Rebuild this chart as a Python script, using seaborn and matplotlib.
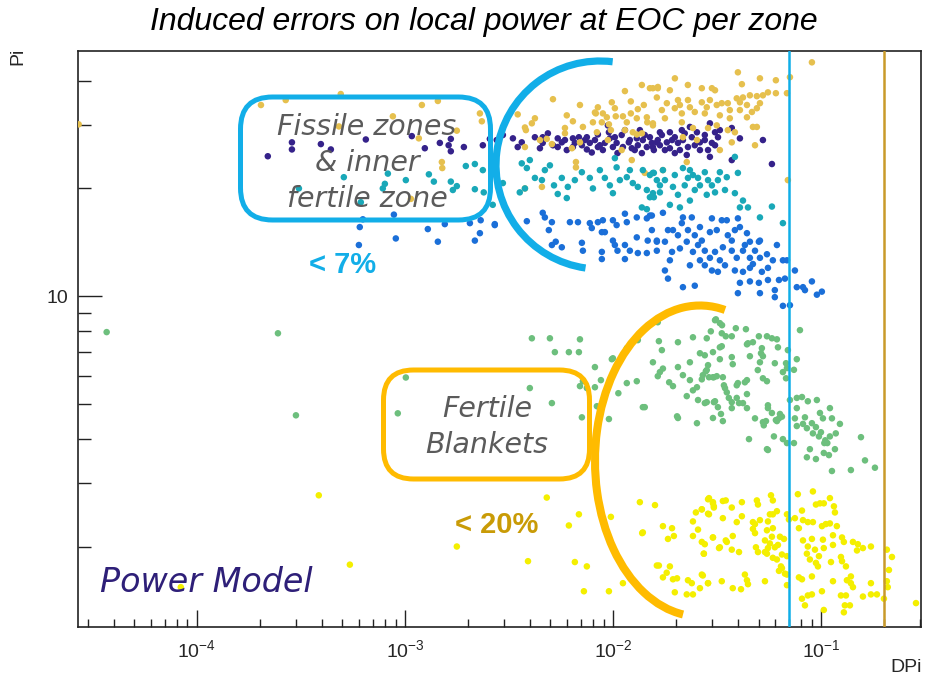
import numpy as np
import pandas as pd
import matplotlib
matplotlib.use("Agg")
import matplotlib.pyplot as plt
import seaborn as sns
from matplotlib.patches import FancyBboxPatch, Arc
from matplotlib.ticker import LogLocator, FixedLocator, NullFormatter, FixedFormatter

# ---------------- data ----------------
gold_dpi = [2.70e-5, 2.03e-4, 2.67e-4, 4.91e-4, 1.205e-3, 1.438e-3, 8.74e-4, 2.29e-3, 2.34e-3, 1.774e-3,
            1.165e-3, 1.503e-3, 1.51e-3, 1.067e-3, 4.81e-4,
            0.00514, 0.00693, 0.00845, 0.00986, 0.0114, 0.01217, 0.01375, 0.01405, 0.01554, 0.01641,
            0.00348, 0.00421, 0.00407, 0.00377, 0.00381, 0.00599, 0.00641, 0.00587, 0.00716, 0.00818,
            0.00826, 0.00893, 0.00933, 0.0080, 0.00883, 0.00955, 0.00976, 0.0102, 0.0103, 0.01115,
            0.01164, 0.01217, 0.0130, 0.01315, 0.01453, 0.0146, 0.01554, 0.0114, 0.01244, 0.0130,
            0.01375, 0.00836, 0.00587, 0.00693, 0.00634, 0.0048, 0.00508, 0.00377, 0.00445, 0.00944,
            0.0110, 0.0123, 0.0142, 0.00663, 0.00663, 0.00377, 0.00455,
            0.01982, 0.02288, 0.0398, 0.0508, 0.0606, 0.0903, 0.0708, 0.01503, 0.0164, 0.01875,
            0.0267, 0.02985, 0.0309, 0.0416, 0.0555, 0.0606, 0.0685, 0.0525, 0.0491, 0.04546,
            0.0421, 0.0393, 0.0407, 0.0356, 0.0333, 0.0292, 0.0267, 0.0229, 0.0205, 0.02095,
            0.0234, 0.0282, 0.0315, 0.0364, 0.0407, 0.0440, 0.0508, 0.0465, 0.0491, 0.01623,
            0.01813, 0.01716, 0.0198, 0.0214, 0.0247, 0.0276, 0.0326, 0.0364, 0.0440, 0.01775,
            0.0214, 0.0242, 0.0315, 0.0356, 0.0385, 0.0470, 0.0491, 0.0286, 0.01554, 0.02166,
            0.0253, 0.0372, 0.0481, 0.0326, 0.0226, 0.01736, 0.0692]
gold_pi = [30.2, 34.2, 35.3, 36.7, 34.2, 35.1, 31.8, 32.4, 30.8, 29.0,
           27.6, 23.7, 22.8, 18.7, 29.8,
           35.5, 34.2, 33.7, 34.8, 37.4, 35.0, 38.9, 34.2, 38.1, 38.4,
           32.2, 31.4, 30.4, 29.6, 29.1, 32.0, 30.8, 29.5, 29.7, 32.6,
           32.4, 32.4, 31.6, 30.6, 30.6, 30.2, 29.1, 33.5, 31.8, 31.8,
           30.6, 32.4, 31.4, 33.3, 31.6, 30.6, 30.0, 29.1, 28.7, 28.3,
           28.5, 28.7, 28.5, 26.9, 25.9, 27.5, 26.6, 26.1, 27.3, 27.3,
           25.6, 24.0, 22.1, 23.7, 22.9, 20.0, 20.2,
           40.6, 38.9, 42.2, 40.6, 40.1, 45.0, 40.9, 38.1, 38.1, 37.6,
           38.1, 38.1, 37.6, 39.1, 37.1, 36.9, 36.9, 36.4, 36.2, 36.4,
           35.9, 35.7, 34.8, 34.6, 34.6, 35.3, 34.8, 35.3, 35.3, 34.2,
           33.7, 33.7, 34.2, 33.1, 33.1, 34.2, 34.6, 32.7, 33.5, 35.9,
           34.6, 33.1, 33.5, 32.4, 32.7, 32.4, 32.0, 31.4, 31.6, 31.4,
           30.6, 29.5, 30.0, 29.1, 28.7, 29.7, 29.7, 29.5, 30.4, 27.8,
           27.3, 26.9, 26.4, 25.6, 23.7, 22.5, 21.1]

indigo_dpi = [2.19e-4, 2.86e-4, 2.86e-4, 3.94e-4, 4.40e-4, 6.48e-4, 1.078e-3, 1.245e-3, 1.47e-3, 1.62e-3,
              1.66e-3, 1.66e-3, 1.918e-3, 2.366e-3, 2.557e-3,
              0.002953, 0.0033, 0.00348, 0.00364, 0.00421, 0.00445, 0.00459, 0.00486, 0.00514, 0.00542,
              0.00567, 0.00599, 0.00641, 0.00685, 0.00708, 0.00748, 0.00773, 0.0079, 0.00845, 0.00893,
              0.00913, 0.00944, 0.00955, 0.00965, 0.00998, 0.0104, 0.0105, 0.01115, 0.0114, 0.0119,
              0.0123, 0.0130, 0.01315, 0.01375, 0.0139, 0.01453, 0.01536, 0.0157, 0.0164, 0.00276,
              0.00845, 0.00748, 0.0110, 0.00641, 0.00542, 0.00459,
              0.01503, 0.01623, 0.01716, 0.01813, 0.01875, 0.0198, 0.0205, 0.0214, 0.02166, 0.0229,
              0.0239, 0.0253, 0.02615, 0.0276, 0.0292, 0.02985, 0.0309, 0.03193, 0.01775, 0.0198,
              0.0226, 0.02615, 0.0292, 0.01554, 0.0372, 0.0407, 0.0372, 0.0525, 0.058, 0.0234,
              0.01875,
              0.00587, 0.00655, 0.00732, 0.00818, 0.00864, 0.0102, 0.01204, 0.01271, 0.0142, 0.01679,
              0.0192, 0.02095, 0.0247, 0.0276, 0.0309, 0.0326, 0.0286, 0.0221, 0.01679, 0.01345]
indigo_pi = [24.6, 26.9, 25.7, 26.6, 25.7, 27.4, 28.0, 25.9, 26.8, 26.4,
             27.5, 25.4, 26.1, 26.4, 27.5,
             28.2, 27.6, 26.1, 26.9, 27.8, 25.9, 26.8, 28.5, 26.4, 26.1,
             26.9, 25.6, 26.1, 27.8, 26.4, 25.7, 26.8, 25.2, 26.1, 25.6,
             26.8, 30.0, 28.7, 27.6, 26.1, 26.8, 25.1, 26.1, 29.1, 26.9,
             25.9, 27.6, 26.4, 25.1, 27.3, 26.1, 26.8, 25.6, 27.3, 27.3,
             28.3, 27.8, 28.2, 27.6, 27.6, 27.8,
             27.8, 26.9, 28.2, 26.9, 28.7, 27.8, 26.8, 29.1, 27.3, 26.1,
             27.8, 28.7, 26.9, 28.2, 30.4, 26.8, 28.7, 27.8, 25.6, 25.1,
             24.8, 25.6, 24.5, 26.1, 29.5, 27.6, 24.0, 27.3, 23.4, 29.7,
             25.9,
             27.3, 26.8, 27.3, 27.3, 26.4, 27.8, 27.3, 25.6, 28.2, 26.4,
             27.3, 25.6, 26.4, 27.3, 26.4, 29.1, 25.6, 28.5, 28.7, 29.1]

teal_dpi = [3.09e-4, 5.08e-4, 8.00e-4, 7.82e-4, 8.27e-4, 1.009e-3, 1.302e-3, 1.376e-3, 1.66e-3, 1.698e-3,
            1.774e-3, 1.96e-3, 2.166e-3, 2.366e-3, 2.166e-3, 2.39e-3, 6.13e-4,
            0.00364, 0.00385, 0.00398, 0.00497, 0.00421, 0.00377, 0.00356, 0.00455, 0.00567, 0.00606,
            0.00542, 0.00599, 0.00708, 0.00773, 0.0080, 0.00913, 0.0102, 0.0104, 0.01078, 0.00998,
            0.01164, 0.01244, 0.01315, 0.0139, 0.01453, 0.01503, 0.01554, 0.01375, 0.01453, 0.01623,
            0.002953, 0.00264,
            0.01554, 0.01736, 0.0194, 0.02166, 0.0242, 0.02615, 0.0286, 0.0326, 0.0309, 0.0234,
            0.02095, 0.01875, 0.0385, 0.0398, 0.0385, 0.0421, 0.0445, 0.0407, 0.0508, 0.058,
            0.0655, 0.0157, 0.01679, 0.0234, 0.0352, 0.0282, 0.01503, 0.0157,
            0.01775, 0.0198, 0.0221, 0.0247, 0.0276, 0.02985, 0.0205, 0.0256, 0.01679, 0.0229,
            0.0319, 0.0345, 0.01204, 0.00965, 0.00864, 0.00655, 0.0052, 0.0047]
teal_pi = [20.0, 21.5, 20.6, 20.0, 22.0, 21.1, 21.9, 20.9, 20.9, 19.8,
           20.3, 23.1, 23.4, 22.5, 19.9, 19.5, 18.3,
           23.5, 22.8, 24.0, 23.2, 21.4, 20.0, 19.5, 21.1, 21.4, 20.2,
           19.3, 18.8, 22.2, 21.4, 20.0, 21.4, 24.3, 22.9, 21.1, 19.4,
           21.5, 20.7, 20.2, 22.5, 19.8, 21.8, 19.4, 17.7, 17.5, 21.1,
           20.7, 18.0,
           22.1, 22.5, 20.2, 22.8, 21.8, 20.4, 21.1, 22.2, 19.5, 18.5,
           17.7, 18.0, 24.5, 22.1, 19.4, 18.5, 17.7, 17.7, 16.6, 17.8,
           16.0, 18.9, 19.5, 22.5, 21.5, 19.2, 18.9, 22.1,
           21.1, 21.8, 20.4, 19.8, 22.2, 20.4, 19.2, 21.4, 20.4, 21.4,
           21.1, 19.8, 22.5, 20.4, 22.5, 21.1, 20.4, 22.5]

blue_dpi = [6.27e-4, 6.06e-4, 8.84e-4, 9.03e-4, 6.0e-4, 1.287e-3, 1.438e-3, 2.166e-3, 2.29e-3, 0.0027,
            2.05e-3, 1.553e-3, 2.31e-3,
            0.0027, 0.00385, 0.00459, 0.0047, 0.00508, 0.00491, 0.0062, 0.00678, 0.00773, 0.0079,
            0.00845, 0.00893, 0.00913, 0.00883, 0.00998, 0.0104, 0.0114, 0.01164, 0.0130, 0.01453,
            0.01536, 0.01536, 0.00508, 0.0053, 0.00567, 0.00708, 0.00716, 0.00883, 0.00883, 0.00998,
            0.0102, 0.0105, 0.0114, 0.0114, 0.01204, 0.0130, 0.01315, 0.01467, 0.01453, 0.01623,
            0.01503, 0.01736, 0.0194, 0.0214, 0.02166, 0.0239, 0.02615, 0.02985, 0.0333, 0.0352,
            0.0398, 0.0407, 0.0385, 0.01836, 0.01623, 0.01775, 0.0205, 0.0226, 0.0247, 0.0267,
            0.0315, 0.0337, 0.0372, 0.0440, 0.04546, 0.0502, 0.01623, 0.0192, 0.02095, 0.0242,
            0.0276, 0.0292, 0.0309, 0.0326, 0.0372, 0.0393, 0.0421, 0.04546, 0.0470, 0.0508,
            0.0549, 0.0613, 0.0586, 0.0655, 0.01875, 0.01775, 0.01836, 0.02166, 0.0247, 0.0276,
            0.02985, 0.0319, 0.0407, 0.0398, 0.04546, 0.0502, 0.0519, 0.0555, 0.0555, 0.0627,
            0.0599, 0.0599, 0.0670, 0.0685, 0.0748, 0.0764, 0.0818, 0.0836, 0.0954, 0.0508,
            0.04546, 0.0421, 0.0655, 0.0708, 0.0903, 0.1008,
            0.0229, 0.0256, 0.0292, 0.0356, 0.0430, 0.0481, 0.02615, 0.0345, 0.0234, 0.0508, 0.0385]
blue_pi = [16.4, 15.6, 16.9, 14.5, 13.9, 15.4, 14.2, 14.3, 15.0, 15.8,
           16.0, 15.9, 16.3,
           15.9, 16.2, 17.1, 16.6, 16.1, 15.3, 16.1, 16.1, 16.0, 15.5,
           16.1, 16.3, 15.1, 15.1, 16.3, 15.8, 17.0, 16.1, 16.6, 16.5,
           16.8, 15.3, 13.9, 14.2, 13.7, 14.1, 13.4, 13.3, 12.7, 14.3,
           13.9, 13.4, 13.9, 12.7, 13.4, 14.6, 13.2, 14.3, 13.2, 14.2,
           16.8, 17.1, 15.3, 16.0, 16.6, 16.6, 15.6, 16.5, 16.3, 16.3,
           16.5, 15.6, 15.3, 15.3, 14.3, 14.2, 14.8, 14.2, 14.8, 14.3,
           15.3, 13.7, 14.3, 15.0, 14.2, 14.2, 13.4, 13.3, 13.6, 13.3,
           13.4, 12.8, 13.3, 12.6, 13.4, 12.8, 13.4, 12.8, 12.3, 12.8,
           13.1, 13.9, 12.6, 12.6, 12.6, 11.8, 11.2, 10.6, 10.7, 12.2,
           11.8, 11.7, 10.9, 10.2, 11.0, 10.9, 11.7, 12.0, 11.1, 11.1,
           10.4, 9.94, 11.2, 12.6, 11.8, 10.6, 10.6, 10.4, 10.1, 10.2,
           12.0, 11.7, 9.4, 9.44, 11.0, 10.3,
           15.3, 13.9, 15.1, 14.8, 13.9, 13.4, 12.6, 12.2, 12.2, 14.3, 11.8]

green_dpi = [3.68e-5, 2.45e-4, 2.99e-4, 1.009e-3, 9.23e-4,
             0.00407, 0.00497, 0.00693, 0.00525, 0.00613, 0.00685, 0.00986, 0.00998, 0.00818, 0.01164,
             0.01315, 0.0164, 0.0166, 0.01716, 0.01554, 0.0205, 0.0242, 0.0282, 0.0295, 0.0309,
             0.00716, 0.00693, 0.00748, 0.00818, 0.00874, 0.0106, 0.01164, 0.0130, 0.01679, 0.01736,
             0.0164, 0.0186, 0.0194, 0.0205, 0.02166, 0.0234, 0.0242, 0.0253, 0.0267, 0.0279,
             0.0286, 0.0302, 0.0315, 0.0226, 0.0256, 0.0276, 0.0309, 0.0319, 0.0302, 0.0253,
             0.0205, 0.0203, 0.0139, 0.0142, 0.00836, 0.00864, 0.00708, 0.00955, 0.00508, 0.00398,
             0.0234, 0.02615, 0.0276, 0.0302, 0.0326,
             0.0312, 0.0326, 0.0334, 0.0389, 0.0435, 0.0791, 0.0333, 0.0348, 0.0372, 0.0502,
             0.0549, 0.058, 0.0613, 0.0470, 0.0445, 0.0440, 0.0333, 0.0519, 0.0620, 0.0692,
             0.0372, 0.04546, 0.0514, 0.0525, 0.0326, 0.0508, 0.0599, 0.0678, 0.0764, 0.0376,
             0.0685, 0.0740, 0.0282, 0.0496, 0.0655, 0.0270, 0.0289, 0.0305, 0.0337, 0.0525,
             0.0549, 0.0678, 0.0440, 0.0430, 0.0398, 0.0393, 0.0341, 0.0345, 0.0352, 0.0440,
             0.0360, 0.0393, 0.0372, 0.0403, 0.0421, 0.0440, 0.0372, 0.0282, 0.0305, 0.0708,
             0.0764, 0.0809, 0.0863, 0.0954, 0.0764, 0.1102, 0.0555, 0.0555, 0.058, 0.0634,
             0.0648, 0.0748, 0.0836, 0.0987, 0.1020, 0.1127, 0.1231, 0.0481, 0.0543, 0.0525,
             0.0530, 0.0606, 0.0627, 0.0613, 0.0330, 0.0337, 0.0818, 0.0903, 0.0764, 0.0854,
             0.0944, 0.0998, 0.0913, 0.0976, 0.1047, 0.1102, 0.1176, 0.1036, 0.1071, 0.0593,
             0.0655, 0.0685, 0.0740, 0.0450, 0.0549, 0.0555, 0.0883, 0.1165, 0.1090, 0.1030,
             0.0854, 0.0944, 0.1554, 0.1625, 0.1814, 0.1127, 0.1390]
green_pi = [7.94, 7.88, 4.65, 5.93, 4.71,
            7.63, 7.63, 7.58, 6.98, 6.98, 6.98, 6.67, 6.71, 6.34, 7.16,
            7.54, 8.46, 7.49, 7.07, 6.54, 7.44, 7.68, 7.63, 7.98, 8.57,
            5.79, 5.61, 5.54, 5.57, 5.83, 5.36, 5.72, 5.79, 6.14, 6.28,
            5.98, 5.75, 5.61, 6.34, 6.02, 5.83, 5.46, 5.57, 5.86, 6.17,
            6.42, 5.94, 5.98, 5.26, 5.13, 5.03, 5.09, 4.90, 4.57, 4.42,
            4.57, 4.62, 4.90, 4.90, 4.93, 4.87, 4.59, 4.54, 5.03, 5.54,
            6.54, 6.93, 6.84, 6.98, 7.20,
            8.62, 8.41, 8.30, 8.14, 8.09, 8.04, 7.88, 7.73, 7.73, 7.73,
            7.73, 7.63, 7.58, 7.44, 7.39, 7.34, 7.25, 7.16, 7.20, 7.07,
            6.76, 6.80, 6.93, 6.80, 6.67, 6.54, 6.50, 6.50, 6.67, 6.46,
            6.30, 6.23, 6.22, 6.22, 6.14, 6.02, 5.94, 5.94, 5.94, 5.90,
            5.79, 5.90, 5.83, 5.75, 5.72, 5.64, 5.64, 5.54, 5.39, 5.33,
            5.20, 5.20, 5.06, 5.03, 5.03, 4.87, 4.87, 5.06, 5.06, 5.13,
            5.20, 5.23, 5.09, 5.13, 4.87, 4.87, 4.96, 4.87, 4.72, 4.69,
            4.61, 4.56, 4.59, 4.72, 4.56, 4.56, 4.40, 4.56, 4.48, 4.45,
            4.36, 4.51, 4.56, 4.48, 4.69, 4.48, 4.40, 4.42, 4.34, 4.28,
            4.31, 4.17, 4.14, 4.06, 3.96, 4.06, 4.14, 3.89, 3.89, 4.06,
            3.99, 3.89, 3.89, 3.99, 3.74, 3.72, 3.74, 3.74, 3.60, 3.65,
            3.55, 3.51, 4.04, 3.48, 3.32, 3.25, 3.27]

yellow_dpi = [3.85e-4, 5.43e-4, 1.774e-3, 8.36e-5,
              0.0048, 0.00685, 0.00613, 0.00976, 0.01345, 0.0159, 0.0138, 0.0139, 0.01736, 0.0192,
              0.0196, 0.01836, 0.0250, 0.0267, 0.0286, 0.0302, 0.0305, 0.0289, 0.0242, 0.0256,
              0.0242, 0.0267, 0.0276, 0.0273, 0.0302, 0.0039, 0.00655, 0.00748, 0.00724, 0.00955,
              0.01623, 0.0166, 0.01875, 0.0181, 0.01736, 0.0194, 0.0203, 0.0229, 0.0239, 0.0267,
              0.02615, 0.0286, 0.0198, 0.0226, 0.0242, 0.01115,
              0.0289, 0.0302, 0.0305, 0.0267, 0.0286, 0.0337, 0.0348, 0.0372, 0.0416, 0.0491,
              0.0497, 0.0574, 0.0586, 0.0567, 0.0586, 0.0613, 0.0685, 0.0700, 0.0748, 0.0809,
              0.0773, 0.0913, 0.0944, 0.0987, 0.1030, 0.1102, 0.1152, 0.1165, 0.0863, 0.0913,
              0.0818, 0.1009, 0.1053, 0.1102, 0.1190, 0.0782, 0.1140, 0.1260, 0.1286, 0.1422,
              0.1502, 0.1735, 0.1140, 0.1020, 0.0903, 0.0818, 0.0863, 0.0934, 0.1030, 0.0976,
              0.0883, 0.0854, 0.0944, 0.0965, 0.1115, 0.1245, 0.1316, 0.1260, 0.1588, 0.1487,
              0.207, 0.219, 0.2118, 0.207, 0.209, 0.2004, 0.1735, 0.1735, 0.1854, 0.1588,
              0.1316, 0.1245, 0.1422, 0.1390, 0.1330, 0.1140, 0.1009, 0.0903, 0.0863, 0.0809,
              0.0836, 0.1030, 0.1300, 0.1375, 0.1286, 0.2857, 0.1390, 0.0782, 0.0809, 0.0903,
              0.0685, 0.0670, 0.0685, 0.0641, 0.0627, 0.0648, 0.0613, 0.0648, 0.0599, 0.0620,
              0.0634, 0.0663, 0.058, 0.0586, 0.0549, 0.0567, 0.0555, 0.0537, 0.0537, 0.0549,
              0.0586, 0.0486, 0.0497, 0.0470, 0.0481, 0.0508, 0.0555, 0.0470, 0.0481, 0.0416,
              0.0393, 0.0337, 0.0302, 0.0326, 0.0323, 0.0348, 0.0352, 0.0376, 0.0372, 0.0403,
              0.0273, 0.0270, 0.0286, 0.0333, 0.0376, 0.0412, 0.0430, 0.0440, 0.0445, 0.0537,
              0.0685]
yellow_pi = [2.78, 1.78, 2.00, 1.54,
             2.74, 2.46, 2.29, 2.42, 2.66, 2.61, 2.18, 2.19, 2.28, 2.25,
             2.14, 2.10, 2.49, 2.54, 2.71, 2.64, 2.57, 2.46, 2.35, 2.23,
             2.14, 2.06, 2.03, 1.91, 2.12, 1.82, 1.81, 1.76, 1.50, 1.50,
             1.77, 1.77, 1.76, 1.69, 1.64, 1.62, 1.63, 1.61, 1.58, 1.67,
             1.53, 1.58, 1.49, 1.47, 1.47, 1.58,
             2.73, 2.66, 2.59, 2.54, 2.47, 2.68, 2.69, 2.57, 2.66, 2.69,
             2.62, 2.78, 2.69, 2.46, 2.46, 2.51, 2.46, 2.38, 2.40, 2.52,
             2.80, 2.85, 2.62, 2.64, 2.64, 2.73, 2.59, 2.49, 2.34, 2.34,
             2.37, 2.28, 2.31, 2.32, 2.28, 2.25, 2.15, 2.12, 2.06, 2.06,
             2.03, 2.00, 2.02, 2.09, 2.10, 2.08, 2.00, 1.96, 1.98, 1.88,
             1.84, 1.91, 1.80, 1.76, 1.81, 1.87, 1.76, 1.82, 1.98, 1.95,
             1.96, 1.87, 1.72, 1.60, 1.54, 1.43, 1.58, 1.47, 1.47, 1.45,
             1.46, 1.46, 1.54, 1.58, 1.61, 1.60, 1.50, 1.47, 1.46, 1.43,
             1.37, 1.33, 1.37, 1.37, 1.31, 1.39, 1.65, 1.64, 1.62, 1.65,
             1.67, 1.68, 1.56, 1.76, 1.71, 1.74, 1.84, 1.90, 1.99, 2.02,
             2.13, 2.10, 2.13, 2.25, 2.22, 2.04, 1.98, 2.08, 1.93, 1.91,
             1.86, 1.99, 1.93, 2.34, 2.31, 2.37, 2.35, 2.24, 2.18, 2.43,
             2.34, 2.40, 2.12, 1.99, 1.98, 2.08, 2.06, 2.14, 1.96, 1.93,
             1.91, 1.66, 1.58, 1.60, 1.53, 1.52, 1.67, 1.61, 1.57, 1.60,
             1.88]

limit_lines = [0.07, 0.2]          # vertical limit lines (7 %, 20 %)
x_ticks = [1e-4, 1e-3, 1e-2, 1e-1]
x_tick_labels = [r"$10^{-4}$", r"$10^{-3}$", r"$10^{-2}$", r"$10^{-1}$"]
y_ticks = [10]
y_tick_labels = ["10"]

palette = {"gold": "#e6c04e", "indigo": "#35228a", "teal": "#19a8b8",
           "blue": "#1b6fd8", "green": "#6dbf7d", "yellow": "#f4ef00"}

series = [("indigo", indigo_dpi, indigo_pi), ("gold", gold_dpi, gold_pi),
          ("teal", teal_dpi, teal_pi), ("blue", blue_dpi, blue_pi),
          ("green", green_dpi, green_pi), ("yellow", yellow_dpi, yellow_pi)]
df = pd.concat([pd.DataFrame({"DPi": d, "Pi": p, "zone": z}) for z, d, p in series],
               ignore_index=True)

# ---------------- style ----------------
sns.set_style("white")
plt.rcParams["font.family"] = ["Liberation Sans", "DejaVu Sans"]
plt.rcParams["mathtext.fontset"] = "custom"
plt.rcParams["mathtext.rm"] = "Liberation Sans"
plt.rcParams["mathtext.it"] = "Liberation Sans:italic"
plt.rcParams["mathtext.bf"] = "Liberation Sans:bold"

W, H = 925, 679
fig = plt.figure(figsize=(W / 100, H / 100), dpi=100)
ax = fig.add_axes([78 / W, (H - 627) / H, 843 / W, 576 / H])

sns.scatterplot(data=df, x="DPi", y="Pi", hue="zone", palette=palette, s=22,
                linewidth=0, legend=False, ax=ax, zorder=3)
ax.set_xscale("log")
ax.set_yscale("log")
ax.set_xlim(2.68e-5, 0.302)
ax.set_ylim(1.192, 48.4)

for xv, col in zip(limit_lines, ["#10aee8", "#c99a2a"]):
    ax.axvline(xv, color=col, lw=1.8, zorder=4)

ax.xaxis.set_major_locator(FixedLocator(x_ticks))
ax.xaxis.set_major_formatter(FixedFormatter(x_tick_labels))
ax.xaxis.set_minor_locator(LogLocator(base=10, subs=np.arange(2, 10), numticks=20))
ax.xaxis.set_minor_formatter(NullFormatter())
ax.yaxis.set_major_locator(FixedLocator(y_ticks))
ax.yaxis.set_major_formatter(FixedFormatter(y_tick_labels))
ax.yaxis.set_minor_locator(LogLocator(base=10, subs=np.arange(2, 10), numticks=20))
ax.yaxis.set_minor_formatter(NullFormatter())

ax.tick_params(axis="x", which="both", bottom=True, top=False, direction="in",
               color="#222222", width=1.0)
ax.tick_params(axis="x", which="major", length=12, labelsize=14, pad=9)
ax.tick_params(axis="x", which="minor", length=6)
ax.tick_params(axis="y", which="both", left=True, right=False, direction="in",
               color="#222222", width=1.0)
ax.tick_params(axis="y", which="major", length=17, labelsize=14, pad=7)
ax.tick_params(axis="y", which="minor", length=9)
for sp in ax.spines.values():
    sp.set_visible(True)
    sp.set_color("#222222")
    sp.set_linewidth(1.2)
ax.set_xlabel("")
ax.set_ylabel("")

# ---------------- texts ----------------
fig.text(484 / W, 1 - 22 / H, "Induced errors on local power at EOC per zone",
         ha="center", va="center", fontsize=23, style="italic", color="black")
fig.text(18 / W, 1 - 56 / H, "Pi", rotation=90, ha="center", va="center", fontsize=14)
fig.text(922 / W, 1 - 668 / H, "DPi", ha="right", va="center", fontsize=14)

annot_font = ["DejaVu Sans"]
fig.text(367 / W, 1 - 163 / H, "Fissile zones\n& inner\nfertile zone", ha="center",
         va="center", fontsize=20.5, style="italic", color="#5b5b5b", family=annot_font,
         linespacing=1.36)
fig.text(487 / W, 1 - 427 / H, "Fertile\nBlankets", ha="center", va="center",
         fontsize=20.5, style="italic", color="#5b5b5b", family=annot_font, linespacing=1.36)
fig.text(100 / W, 1 - 582 / H, "Power Model", ha="left", va="center", fontsize=24,
         style="italic", color="#2e1f78", family=annot_font)
fig.text(343 / W, 1 - 265 / H, "< 7%", ha="center", va="center", fontsize=21,
         weight="bold", color="#12aee8")
fig.text(497 / W, 1 - 525 / H, "< 20%", ha="center", va="center", fontsize=21,
         weight="bold", color="#c99b06")

# ---------------- rounded boxes & arcs (in inches) ----------------
tr = fig.dpi_scale_trans
box1 = FancyBboxPatch((2.405, (H - 220) / 100), 2.50, 1.23,
                      boxstyle="round,pad=0,rounding_size=0.32", transform=tr,
                      fill=False, ec="#12aee8", lw=3.6, zorder=10)
box2 = FancyBboxPatch((3.835, (H - 479) / 100), 2.06, 1.09,
                      boxstyle="round,pad=0,rounding_size=0.30", transform=tr,
                      fill=False, ec="#ffbb00", lw=3.6, zorder=10)
fig.patches.extend([box1, box2])
arc1 = Arc((6.00, (H - 165) / 100), 2.08, 2.08, theta1=83, theta2=262,
           transform=tr, color="#12aee8", lw=5.2, zorder=10)
arc2 = Arc((7.00, (H - 461) / 100), 2.10, 3.11, theta1=80.6, theta2=263.7,
           transform=tr, color="#ffbb00", lw=5.8, zorder=10)
fig.patches.extend([arc1, arc2])

fig.savefig("out.png", dpi=100)
